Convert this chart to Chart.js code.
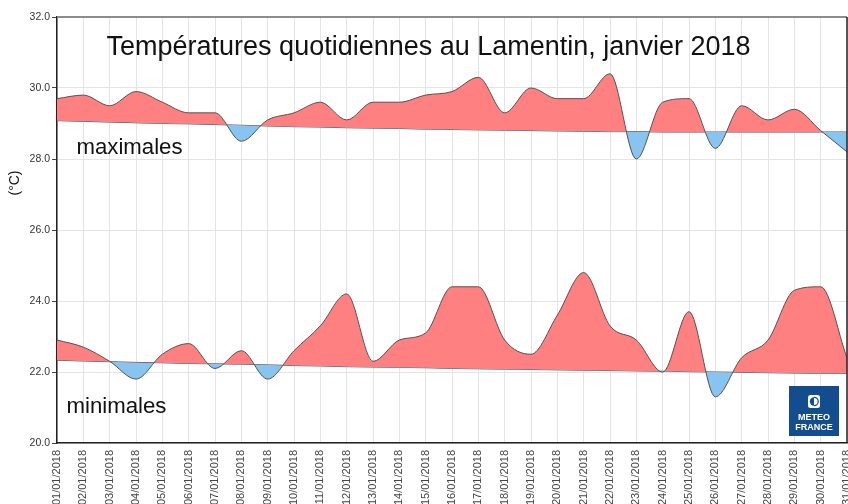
<!DOCTYPE html>
<html><head><meta charset="utf-8">
<script src="https://cdn.jsdelivr.net/npm/chart.js@4.4.1/dist/chart.umd.min.js"></script>
<style>html,body{margin:0;padding:0;overflow:hidden;background:#fff}canvas{display:block}</style>
</head><body>
<canvas id="c" width="848" height="520"></canvas>
<script>
const dayLabels = ['01/01/2018','02/01/2018','03/01/2018','04/01/2018','05/01/2018','06/01/2018','07/01/2018','08/01/2018','09/01/2018','10/01/2018',
  '11/01/2018','12/01/2018','13/01/2018','14/01/2018','15/01/2018','16/01/2018','17/01/2018','18/01/2018','19/01/2018','20/01/2018',
  '21/01/2018','22/01/2018','23/01/2018','24/01/2018','25/01/2018','26/01/2018','27/01/2018','28/01/2018','29/01/2018','30/01/2018','31/01/2018'];
const tmax = [29.7, 29.8, 29.5, 29.9, 29.6, 29.3, 29.3, 28.5, 29.1, 29.3, 29.6, 29.1, 29.6, 29.6, 29.8, 29.9, 30.3, 29.3, 30.0, 29.7, 29.7, 30.4, 28.0, 29.6, 29.7, 28.3, 29.5, 29.1, 29.4, 28.8, 28.2];
const tmaxNormal = [29.08, 29.06, 29.04, 29.02, 29.00, 28.99, 28.97, 28.95, 28.93, 28.91, 28.90, 28.88, 28.87, 28.86, 28.84, 28.83, 28.82, 28.81, 28.80, 28.79, 28.78, 28.77, 28.77, 28.76, 28.76, 28.76, 28.76, 28.76, 28.76, 28.76, 28.76];
const tmin = [22.9, 22.7, 22.3, 21.8, 22.5, 22.8, 22.1, 22.6, 21.8, 22.6, 23.3, 24.2, 22.3, 22.9, 23.1, 24.4, 24.4, 22.9, 22.5, 23.6, 24.8, 23.3, 22.9, 22.0, 23.7, 21.3, 22.4, 22.9, 24.3, 24.4, 22.4];
const tminNormal = [22.33, 22.31, 22.29, 22.27, 22.26, 22.24, 22.23, 22.22, 22.20, 22.18, 22.17, 22.15, 22.14, 22.13, 22.12, 22.10, 22.09, 22.08, 22.07, 22.06, 22.05, 22.04, 22.03, 22.02, 22.01, 22.00, 21.99, 21.98, 21.97, 21.96, 21.96];
const yTicks = [20, 22, 24, 26, 28, 30, 32];

const FONT = '"Liberation Sans", Arial, sans-serif';
const RED = 'rgb(255,128,128)';
const BLUE = 'rgb(135,196,240)';
const LINE = '#5a5050';

const decor = {
  id: 'decor',
  afterDraw(chart) {
    const { ctx, chartArea: a } = chart;
    ctx.save();
    ctx.strokeStyle = '#8c8c8c'; ctx.lineWidth = 2;
    ctx.beginPath(); ctx.moveTo(a.left, a.top); ctx.lineTo(a.right, a.top); ctx.stroke();
    ctx.strokeStyle = '#222'; ctx.lineWidth = 1.5;
    ctx.beginPath(); ctx.moveTo(a.right, a.top); ctx.lineTo(a.right, a.bottom); ctx.stroke();

    ctx.fillStyle = '#111';
    ctx.textBaseline = 'alphabetic';
    ctx.textAlign = 'center';
    ctx.font = '27px ' + FONT;
    ctx.fillText('Températures quotidiennes au Lamentin, janvier 2018', 428.5, 55);
    ctx.textAlign = 'left';
    ctx.font = '22.2px ' + FONT;
    ctx.fillText('maximales', 76.5, 154);
    ctx.fillText('minimales', 66.5, 413);

    ctx.save();
    ctx.translate(19, 183);
    ctx.rotate(-Math.PI / 2);
    ctx.textAlign = 'center';
    ctx.font = '14px ' + FONT;
    ctx.fillText('(°C)', 0, 0);
    ctx.restore();

    // Météo-France logo
    const lx = 789, ly = 386, lw = 50, lh = 50;
    ctx.fillStyle = '#134d8d';
    ctx.fillRect(lx, ly, lw, lh);
    const cx = lx + lw / 2;
    ctx.fillStyle = '#fff';
    ctx.beginPath();
    if (ctx.roundRect) ctx.roundRect(cx - 6, ly + 9, 12, 13, 2.5); else ctx.rect(cx - 6, ly + 9, 12, 13);
    ctx.fill();
    ctx.fillStyle = '#134d8d';
    ctx.beginPath(); ctx.arc(cx, ly + 15.5, 4.2, Math.PI / 2, 3 * Math.PI / 2); ctx.fill();
    ctx.strokeStyle = '#134d8d'; ctx.lineWidth = 1.2;
    ctx.beginPath(); ctx.arc(cx, ly + 15.5, 4.2, -Math.PI / 2, Math.PI / 2); ctx.stroke();
    ctx.fillStyle = '#fff';
    ctx.textAlign = 'center';
    ctx.font = 'bold 9px ' + FONT;
    ctx.fillText('METEO', cx, ly + 34);
    ctx.fillText('FRANCE', cx, ly + 44);
    ctx.restore();
  }
};

new Chart(document.getElementById('c'), {
  type: 'line',
  data: {
    labels: dayLabels,
    datasets: [
      { data: tmax, borderColor: LINE, borderWidth: 1, pointRadius: 0, cubicInterpolationMode: 'monotone',
        fill: { target: 1, above: RED, below: BLUE } },
      { data: tmaxNormal, borderColor: LINE, borderWidth: 1, pointRadius: 0, cubicInterpolationMode: 'monotone', fill: false },
      { data: tmin, borderColor: LINE, borderWidth: 1, pointRadius: 0, cubicInterpolationMode: 'monotone',
        fill: { target: 3, above: RED, below: BLUE } },
      { data: tminNormal, borderColor: LINE, borderWidth: 1, pointRadius: 0, cubicInterpolationMode: 'monotone', fill: false }
    ]
  },
  options: {
    responsive: false,
    animation: false,
    layout: { padding: { top: 17, right: 1, left: 0, bottom: 0 } },
    plugins: { legend: { display: false }, tooltip: { enabled: false }, title: { display: false } },
    scales: {
      x: {
        ticks: { autoSkip: false, maxRotation: 90, minRotation: 90, color: '#444', font: { family: FONT, size: 11 }, padding: 7 },
        grid: { color: '#e4e4e4', drawTicks: false },
        border: { color: '#222', width: 1.5 },
        afterFit(s) { s.height = 77; s.paddingLeft = 0; s.paddingRight = 0; }
      },
      y: {
        min: 20, max: 32,
        afterBuildTicks(s) { s.ticks = yTicks.map(v => ({ value: v })); },
        ticks: { callback: v => Number(v).toFixed(1), color: '#333', font: { family: FONT, size: 10.5 }, padding: 2 },
        grid: { color: '#e4e4e4', tickLength: 5, tickColor: '#444' },
        border: { color: '#222', width: 1.5 },
        afterFit(s) { s.width = 57; s.paddingTop = 0; s.paddingBottom = 0; }
      }
    }
  },
  plugins: [decor]
});
</script>
</body></html>
